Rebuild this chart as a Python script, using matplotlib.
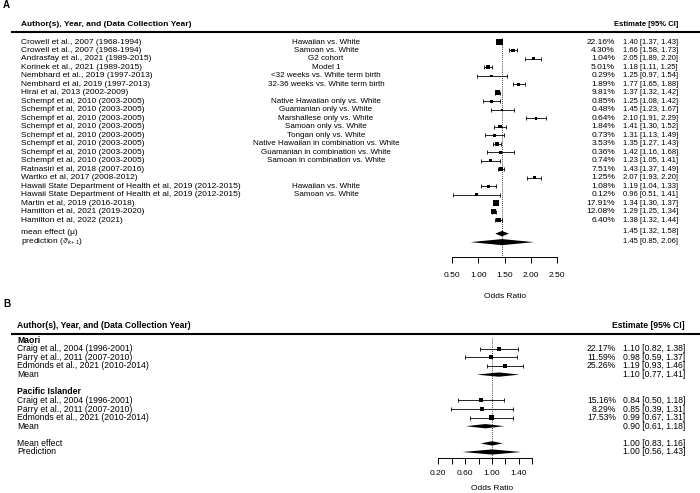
"""Forest plots (A: US studies, B: NZ studies) of preterm-birth odds ratios."""
import matplotlib

matplotlib.use("Agg")
import matplotlib.pyplot as plt
import numpy as np
from matplotlib.transforms import blended_transform_factory

plt.rcParams["font.family"] = ["Liberation Sans", "DejaVu Sans"]
plt.rcParams["mathtext.fontset"] = "custom"
plt.rcParams["mathtext.rm"] = "Liberation Sans"
plt.rcParams["mathtext.it"] = "Liberation Sans:italic"

# ---- Panel A data -------------------------------------------------------
authors_a = [
    "Crowell et al., 2007 (1968-1994)",
    "Crowell et al., 2007 (1968-1994)",
    "Andrasfay et al., 2021 (1989-2015)",
    "Korinek et al., 2021 (1989-2015)",
    "Nembhard et al., 2019 (1997-2013)",
    "Nembhard et al, 2019 (1997-2013)",
    "Hirai et al, 2013 (2002-2009)",
    "Schempf et al, 2010 (2003-2005)",
    "Schempf et al, 2010 (2003-2005)",
    "Schempf et al, 2010 (2003-2005)",
    "Schempf et al, 2010 (2003-2005)",
    "Schempf et al, 2010 (2003-2005)",
    "Schempf et al, 2010 (2003-2005)",
    "Schempf et al, 2010 (2003-2005)",
    "Schempf et al, 2010 (2003-2005)",
    "Ratnasiri et al, 2018 (2007-2016)",
    "Wartko et al, 2017 (2008-2012)",
    "Hawaii State Department of Health et al, 2019 (2012-2015)",
    "Hawaii State Department of Health et al, 2019 (2012-2015)",
    "Martin et al, 2019 (2016-2018)",
    "Hamilton et al, 2021 (2019-2020)",
    "Hamilton et al, 2022 (2021)",
]
comparisons_a = [
    "Hawaiian vs. White",
    "Samoan vs. White",
    "G2 cohort",
    "Model 1",
    "<32 weeks vs. White term birth",
    "32-36 weeks vs. White term birth",
    "",
    "Native Hawaiian only vs. White",
    "Guamanian only vs. White",
    "Marshallese only vs. White",
    "Samoan only vs. White",
    "Tongan only vs. White",
    "Native Hawaiian in combination vs. White",
    "Guamanian in combination vs. White",
    "Samoan in combination vs. White",
    "",
    "",
    "Hawaiian vs. White",
    "Samoan vs. White",
    "",
    "",
    "",
]
weights_a = [22.16, 4.30, 1.04, 5.01, 0.29, 1.89, 9.81, 0.85, 0.48, 0.64, 1.84,
             0.73, 3.53, 0.36, 0.74, 7.51, 1.25, 1.08, 0.12, 17.91, 12.08, 6.40]
est_a = [1.40, 1.66, 2.05, 1.18, 1.25, 1.77, 1.37, 1.25, 1.45, 2.10, 1.41,
         1.31, 1.35, 1.42, 1.23, 1.43, 2.07, 1.19, 0.96, 1.34, 1.29, 1.38]
lo_a = [1.37, 1.58, 1.89, 1.11, 0.97, 1.65, 1.32, 1.08, 1.23, 1.91, 1.30,
        1.13, 1.27, 1.16, 1.05, 1.37, 1.93, 1.04, 0.51, 1.30, 1.25, 1.32]
hi_a = [1.43, 1.73, 2.20, 1.25, 1.54, 1.88, 1.42, 1.42, 1.67, 2.29, 1.52,
        1.49, 1.43, 1.68, 1.41, 1.49, 2.20, 1.33, 1.41, 1.37, 1.34, 1.44]
pooled_labels_a = ["mean effect (\u03bc)", r"prediction ($\vartheta_{k+1}$)"]
pooled_est_a = [1.45, 1.45]
pooled_lo_a = [1.32, 0.85]
pooled_hi_a = [1.58, 2.06]
ticks_a = [0.50, 1.00, 1.50, 2.00, 2.50]

# ---- Panel B data -------------------------------------------------------
groups_b = ["Maori", "Pacific Islander"]
authors_b = [
    "Craig et al., 2004 (1996-2001)",
    "Parry et al., 2011 (2007-2010)",
    "Edmonds et al., 2021 (2010-2014)",
]
weights_b = [[22.17, 11.59, 25.26], [15.16, 8.29, 17.53]]
est_b = [[1.10, 0.98, 1.19], [0.84, 0.85, 0.99]]
lo_b = [[0.82, 0.59, 0.93], [0.50, 0.39, 0.67]]
hi_b = [[1.38, 1.37, 1.46], [1.18, 1.31, 1.31]]
group_mean_b = [1.10, 0.90]
group_lo_b = [0.77, 0.61]
group_hi_b = [1.41, 1.18]
pooled_labels_b = ["Mean effect", "Prediction"]
pooled_est_b = [1.00, 1.00]
pooled_lo_b = [0.83, 0.56]
pooled_hi_b = [1.16, 1.43]
ticks_b = [0.20, 0.40, 0.60, 0.80, 1.00, 1.20, 1.40, 1.60]
ticklabels_b = ["0.20", "", "0.60", "", "1.00", "", "1.40", ""]

W, H = 700, 493
# panel A was squeezed a little horizontally in the original figure
FS_A, FS_A_MID, FS_A_EST = 6.0, 5.8, 5.5
FS_B = 6.2
FS_AX = 6.0


def fmt_ci(e, lo, hi):
    return f"{e:.2f} [{lo:.2f}, {hi:.2f}]"


def px_pt(px):
    return px * 0.72


def make_axes(fig, top_px, bot_px, row0_px, row_px, x0_px, unit_px, v0):
    """Full-width axes whose data units map onto the reference pixel grid."""
    ax = fig.add_axes([0, 1 - bot_px / H, 1, (bot_px - top_px) / H])
    ax.set_xlim(v0 - x0_px / unit_px, v0 + (W - x0_px) / unit_px)
    ax.set_ylim((bot_px - row0_px) / row_px, (top_px - row0_px) / row_px)
    ax.set_facecolor("none")
    for side in ("top", "left", "right"):
        ax.spines[side].set_visible(False)
    ax.yaxis.set_visible(False)
    return ax


def diamond(ax, est, lo, hi, y, half):
    ax.fill([lo, est, hi, est], [y, y - half, y, y + half],
            color="black", lw=0)


def style_axis(ax, y_axis, lo, hi, ticks, labels, pad_px):
    ax.spines["bottom"].set_position(("data", y_axis))
    ax.spines["bottom"].set_bounds(lo, hi)
    ax.spines["bottom"].set_linewidth(0.7)
    ax.set_xticks(ticks)
    ax.set_xticklabels(labels)
    ax.tick_params(axis="x", direction="out", length=px_pt(5.5), width=0.7,
                   pad=px_pt(pad_px), labelsize=FS_AX, colors="black")


def panel_a(fig):
    ax = make_axes(fig, 0, 300, 42, 8.48, 452.3, 52.35, 0.5)
    tx = blended_transform_factory(ax.transAxes, ax.transData)
    rows = np.arange(len(est_a))
    est = np.array(est_a)
    w = np.array(weights_a)

    ax.text(3 / W, -4.4, "A", transform=tx, fontsize=FS_A + 1,
            fontweight="bold", va="center")
    ax.text(21 / W, -2.09, "Author(s), Year, and (Data Collection Year)",
            transform=tx, fontsize=FS_A, fontweight="bold", va="center")
    ax.text(678 / W, -2.09, "Estimate [95% CI]", transform=tx,
            fontsize=FS_A_EST, fontweight="bold", va="center", ha="right")
    ax.axhline(-1.14, xmin=12 / W, xmax=1, color="black", lw=1.5)

    ax.vlines(pooled_est_a[0], -0.5, 25.32, colors="black", lw=0.6,
              linestyles=(0, (1, 1.5)))

    ax.errorbar(est, rows, xerr=[est - np.array(lo_a), np.array(hi_a) - est],
                fmt="none", ecolor="black", elinewidth=0.6, capsize=1.3,
                capthick=0.6)
    side = 2.0 + 4.3 * np.sqrt(w / w.max())
    ax.scatter(est, rows, marker="s", s=px_pt(side) ** 2, c="black", lw=0,
               zorder=3)

    for r, (a, c, wt, e, lo, hi) in enumerate(
            zip(authors_a, comparisons_a, weights_a, est_a, lo_a, hi_a)):
        ax.text(21 / W, r, a, transform=tx, fontsize=FS_A, va="center")
        if c:
            ax.text(326 / W, r, c, transform=tx, fontsize=FS_A_MID,
                    va="center", ha="center")
        ax.text(615 / W, r, f"{wt:.2f}%", transform=tx, fontsize=FS_A,
                va="center", ha="right")
        ax.text(678 / W, r, fmt_ci(e, lo, hi), transform=tx,
                fontsize=FS_A_EST, va="center", ha="right")

    for y, ty, lab, e, lo, hi, half in zip([22.6, 23.6], [22.45, 23.55],
                                           pooled_labels_a, pooled_est_a,
                                           pooled_lo_a, pooled_hi_a,
                                           [0.32, 0.36]):
        diamond(ax, e, lo, hi, y, half)
        ax.text(21 / W, ty, lab, transform=tx, fontsize=FS_A, va="center")
        ax.text(678 / W, ty - 0.05, fmt_ci(e, lo, hi), transform=tx,
                fontsize=FS_A_EST, va="center", ha="right")

    style_axis(ax, 25.32, 0.5, 2.5, ticks_a, [f"{t:.2f}" for t in ticks_a],
               10)
    ax.text(1.5, 30.07, "Odds Ratio", fontsize=FS_AX, ha="center",
            va="center")


def panel_b(fig):
    ax = make_axes(fig, 300, 493, 340.2, 8.6, 438.3, 67.2, 0.2)
    tx = blended_transform_factory(ax.transAxes, ax.transData)

    ax.text(3 / W, -4.2, "B", transform=tx, fontsize=FS_B + 1,
            fontweight="bold", va="center")
    ax.text(17 / W, -1.69, "Author(s), Year, and (Data Collection Year)",
            transform=tx, fontsize=FS_B, fontweight="bold", va="center")
    ax.text(685 / W, -1.69, "Estimate [95% CI]", transform=tx, fontsize=FS_B,
            fontweight="bold", va="center", ha="right")
    ax.axhline(-0.69, xmin=12 / W, xmax=1, color="black", lw=1.5)

    ax.vlines(pooled_est_b[0], -0.3, 13.66, colors="black", lw=0.6,
              linestyles=(0, (1, 1.5)))

    wmax = max(max(g) for g in weights_b)
    row = 0
    for g, name in enumerate(groups_b):
        ax.text(17 / W, row, name, transform=tx, fontsize=FS_B,
                fontweight="bold", va="center")
        rows = row + 1 + np.arange(len(authors_b))
        est = np.array(est_b[g])
        w = np.array(weights_b[g])
        ax.errorbar(est, rows,
                    xerr=[est - np.array(lo_b[g]), np.array(hi_b[g]) - est],
                    fmt="none", ecolor="black", elinewidth=0.6, capsize=1.3,
                    capthick=0.6)
        side = 3.0 + 1.5 * np.sqrt(w / wmax)
        ax.scatter(est, rows, marker="s", s=px_pt(side) ** 2, c="black",
                   lw=0, zorder=3)
        for r, a, wt, e, lo, hi in zip(rows, authors_b, weights_b[g],
                                       est_b[g], lo_b[g], hi_b[g]):
            ax.text(17 / W, r, a, transform=tx, fontsize=FS_B, va="center")
            ax.text(616 / W, r, f"{wt:.2f}%", transform=tx, fontsize=FS_B,
                    va="center", ha="right")
            ax.text(685 / W, r, fmt_ci(e, lo, hi), transform=tx,
                    fontsize=FS_B, va="center", ha="right")
        mrow = rows[-1] + 1
        diamond(ax, group_mean_b[g], group_lo_b[g], group_hi_b[g], mrow, 0.25)
        ax.text(17 / W, mrow, "Mean", transform=tx, fontsize=FS_B,
                va="center")
        ax.text(685 / W, mrow,
                fmt_ci(group_mean_b[g], group_lo_b[g], group_hi_b[g]),
                transform=tx, fontsize=FS_B, va="center", ha="right")
        row = mrow + 2

    for y, lab, e, lo, hi, half in zip([row, row + 1], pooled_labels_b,
                                       pooled_est_b, pooled_lo_b,
                                       pooled_hi_b, [0.25, 0.3]):
        diamond(ax, e, lo, hi, y, half)
        ax.text(17 / W, y, lab, transform=tx, fontsize=FS_B, va="center")
        ax.text(685 / W, y, fmt_ci(e, lo, hi), transform=tx, fontsize=FS_B,
                va="center", ha="right")

    style_axis(ax, 13.66, 0.2, 1.6, ticks_b, ticklabels_b, 7)
    ax.text(1.0, 17.2, "Odds Ratio", fontsize=FS_AX, ha="center",
            va="center")


def main():
    fig = plt.figure(figsize=(W / 100, H / 100), dpi=100)
    panel_a(fig)
    panel_b(fig)
    fig.savefig("out.png", dpi=100, facecolor="white")
    plt.close(fig)


if __name__ == "__main__":
    main()
